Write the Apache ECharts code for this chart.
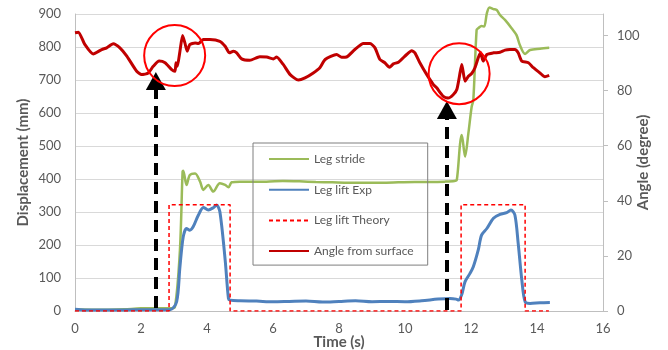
<!DOCTYPE html>
<html>
<head>
<meta charset="utf-8">
<script src="https://cdn.jsdelivr.net/npm/echarts@6/dist/echarts.min.js"></script>
<style>html,body{margin:0;padding:0;background:#fff}#c{width:668px;height:350px}</style>
</head>
<body>
<div id="c"></div>
<script>
// ---- data ----
var xTicks = [0, 2, 4, 6, 8, 10, 12, 14, 16];
var leftTicks = [0, 100, 200, 300, 400, 500, 600, 700, 800, 900];
var rightTicks = [0, 20, 40, 60, 80, 100];

var strideT = [0, 0.5, 1, 1.5, 2, 2.5, 2.9, 3.03, 3.18, 3.26, 3.28, 3.38, 3.48, 3.64, 3.79, 3.89, 4.04, 4.19, 4.39, 4.55, 4.65, 4.75, 5.0, 5.3, 5.8, 6.3, 6.8, 7.3, 7.8, 8.3, 8.8, 9.3, 9.8, 10.3, 10.8, 11.2, 11.5, 11.57, 11.67, 11.72, 11.82, 11.92, 12.02, 12.07, 12.17, 12.22, 12.32, 12.4, 12.48, 12.56, 12.68, 12.78, 12.88, 13.03, 13.23, 13.38, 13.48, 13.64, 13.79, 14.09, 14.37];
var strideV = [5, 4, 4, 5, 8, 8, 8, 13, 185, 422, 425, 382, 412, 417, 392, 367, 382, 362, 387, 382, 375, 390, 392, 392, 392, 394, 393, 391, 390, 389, 389, 389, 390, 391, 391, 392, 394, 397, 508, 533, 468, 538, 619, 639, 852, 857, 864, 862, 902, 920, 915, 912, 897, 882, 857, 836, 806, 779, 791, 795, 798];

var liftT = [0, 0.3, 1, 1.5, 2, 2.5, 2.88, 3.08, 3.18, 3.28, 3.38, 3.48, 3.58, 3.74, 3.89, 4.04, 4.19, 4.29, 4.39, 4.55, 4.65, 4.7, 5.0, 5.5, 6.0, 6.5, 7.0, 7.5, 8.0, 8.5, 9.0, 9.5, 10.0, 10.5, 11.0, 11.36, 11.55, 11.62, 11.72, 11.82, 11.97, 12.07, 12.22, 12.32, 12.48, 12.68, 12.88, 13.08, 13.21, 13.33, 13.43, 13.54, 13.64, 13.79, 14.09, 14.39];
var liftV = [5, 3, 3, 3, 4, 4, 4, 28, 134, 225, 250, 245, 255, 291, 314, 306, 313, 321, 301, 155, 38, 33, 31, 30, 28, 29, 30, 27, 29, 31, 28, 29, 28, 31, 36, 38, 36, 33, 50, 89, 114, 134, 185, 230, 250, 281, 293, 298, 306, 291, 205, 94, 28, 23, 25, 26];

var theoryT = [0, 2.85, 2.85, 4.7, 4.7, 11.7, 11.7, 13.64, 13.64, 14.36];
var theoryV = [0, 0, 322, 322, 0, 0, 322, 322, 0, 0];

var angleT = [0, 0.1, 0.3, 0.55, 0.81, 0.96, 1.16, 1.36, 1.57, 1.87, 2.02, 2.22, 2.37, 2.55, 2.73, 2.93, 3.03, 3.06, 3.1, 3.18, 3.26, 3.33, 3.4, 3.48, 3.64, 3.74, 3.89, 4.09, 4.39, 4.55, 4.68, 4.8, 4.9, 5.05, 5.3, 5.6, 5.81, 6.01, 6.11, 6.31, 6.52, 6.77, 6.97, 7.22, 7.42, 7.58, 7.93, 8.08, 8.23, 8.48, 8.74, 8.94, 9.09, 9.24, 9.39, 9.53, 9.65, 9.8, 10.05, 10.2, 10.3, 10.45, 10.66, 10.86, 10.96, 11.16, 11.31, 11.46, 11.57, 11.65, 11.72, 11.82, 11.92, 12.02, 12.12, 12.22, 12.29, 12.37, 12.48, 12.68, 12.88, 13.03, 13.18, 13.33, 13.43, 13.54, 13.74, 13.89, 14.09, 14.24, 14.37];
var angleV = [101.0, 101.2, 96.7, 93.3, 94.9, 95.5, 97.0, 95.5, 92.5, 87.0, 85.8, 86.4, 88.8, 90.7, 90.1, 87.6, 87.0, 90.1, 88.8, 94.3, 100.0, 97.3, 94.3, 96.7, 97.3, 97.1, 98.5, 98.5, 97.9, 96.1, 93.7, 94.3, 93.7, 91.5, 91.0, 92.3, 92.2, 91.5, 92.2, 89.5, 85.8, 83.8, 84.6, 86.4, 88.3, 91.3, 93.1, 92.1, 92.2, 94.9, 97.1, 97.1, 95.5, 91.3, 90.1, 88.5, 89.7, 90.3, 93.1, 94.5, 93.7, 90.1, 85.8, 82.2, 81.0, 77.9, 77.3, 78.5, 80.4, 85.2, 89.5, 83.4, 85.2, 86.2, 88.3, 91.9, 93.7, 90.7, 93.1, 93.7, 93.9, 94.7, 94.9, 94.9, 93.7, 90.7, 90.1, 88.3, 86.4, 85.0, 85.5];

// annotations (data coordinates)
var arrows = [[2.45, 9, 697], [11.27, 3, 609]];
var circles = [[3.02, 774], [11.64, 719]];

function zip(t, v) { return t.map(function (x, i) { return [x, v[i]]; }); }

var gridCol = '#D9D9D9';
var txtCol = '#595959';
var font = 'Lato';

var chart = echarts.init(document.getElementById('c'), null, { renderer: 'canvas' });
chart.setOption({
  animation: false,
  backgroundColor: '#fff',
  textStyle: { fontFamily: font },
  grid: { left: 75, right: 65, top: 14, bottom: 39, containLabel: false, outerBoundsMode: 'none' },
  legend: {
    orient: 'vertical',
    left: 253, top: 143,
    padding: [10, 14, 8, 15],
    itemWidth: 40, itemHeight: 14, itemGap: 18.7,
    borderColor: '#7F7F7F', borderWidth: 1,
    backgroundColor: 'transparent',
    itemStyle: { color: 'rgba(0,0,0,0)', borderWidth: 0, opacity: 0 },
    textStyle: { color: txtCol, fontSize: 12, fontFamily: font },
    data: ['Leg stride', 'Leg lift Exp', 'Leg lift Theory', 'Angle from surface']
  },
  xAxis: {
    type: 'value', min: 0, max: 16, interval: 2,
    name: 'Time (s)', nameLocation: 'middle', nameGap: 24, nameMoveOverlap: false,
    nameTextStyle: { fontSize: 15, fontWeight: 'bold', color: txtCol, fontFamily: font },
    axisLine: { show: true, lineStyle: { color: '#BFBFBF', width: 1 } },
    axisTick: { show: false },
    axisLabel: { color: txtCol, fontSize: 13, margin: 11, customValues: xTicks },
    splitLine: { show: false }
  },
  yAxis: [{
    type: 'value', min: 0, max: 900, interval: 100,
    name: 'Displacement (mm)', nameLocation: 'middle', nameGap: 44, nameMoveOverlap: false,
    nameTextStyle: { fontSize: 15, fontWeight: 'bold', color: txtCol, fontFamily: font },
    axisLine: { show: true, lineStyle: { color: '#BFBFBF', width: 1 } },
    axisTick: { show: false },
    axisLabel: { color: txtCol, fontSize: 13, margin: 14, customValues: leftTicks },
    splitLine: { show: true, lineStyle: { color: gridCol, width: 1 } }
  }, {
    type: 'value', min: 0, max: 107.8, position: 'right',
    name: 'Angle (degree)', nameLocation: 'middle', nameGap: 33, nameMoveOverlap: false,
    nameTextStyle: { fontSize: 15, fontWeight: 'bold', color: txtCol, fontFamily: font },
    axisLine: { show: true, lineStyle: { color: '#BFBFBF', width: 1 } },
    axisTick: { show: true, length: 5, lineStyle: { color: '#BFBFBF' }, customValues: rightTicks },
    axisLabel: { color: txtCol, fontSize: 13, margin: 14, customValues: rightTicks },
    splitLine: { show: false }
  }],
  series: [{
    name: 'Leg stride', type: 'line', yAxisIndex: 0, data: zip(strideT, strideV),
    showSymbol: false, symbol: 'none', smooth: 0.3, z: 2, clip: false,
    lineStyle: { color: '#9BBB59', width: 2.5 }, itemStyle: { color: '#9BBB59' },
    markPoint: {
      symbol: 'circle', symbolSize: 61, silent: true,
      label: { show: false },
      itemStyle: { color: 'rgba(0,0,0,0)', borderColor: '#FF0000', borderWidth: 2 },
      data: circles.map(function (c) { return { coord: c }; }),
      z: 10
    }
  }, {
    name: 'Leg lift Exp', type: 'line', yAxisIndex: 0, data: zip(liftT, liftV),
    showSymbol: false, symbol: 'none', smooth: 0.3, z: 3,
    lineStyle: { color: '#4F81BD', width: 3 }, itemStyle: { color: '#4F81BD' }
  }, {
    name: 'Leg lift Theory', type: 'line', yAxisIndex: 0, data: zip(theoryT, theoryV),
    showSymbol: false, symbol: 'none', smooth: false, z: 4,
    lineStyle: { color: '#FF0000', width: 1.5, type: [4, 3] }, itemStyle: { color: '#FF0000' },
    markLine: {
      silent: true, symbol: ['none', 'triangle'], symbolSize: [20, 18],
      label: { show: false },
      lineStyle: { color: '#000', width: 4, type: [12, 7] },
      itemStyle: { color: '#000' },
      data: arrows.map(function (a) { return [{ coord: [a[0], a[1]] }, { coord: [a[0], a[2]] }]; }),
      z: 9
    }
  }, {
    name: 'Angle from surface', type: 'line', yAxisIndex: 1, data: zip(angleT, angleV),
    showSymbol: false, symbol: 'none', smooth: 0.2, z: 5, clip: false,
    lineStyle: { color: '#C00000', width: 3 }, itemStyle: { color: '#C00000' }
  }]
});
</script>
</body>
</html>
